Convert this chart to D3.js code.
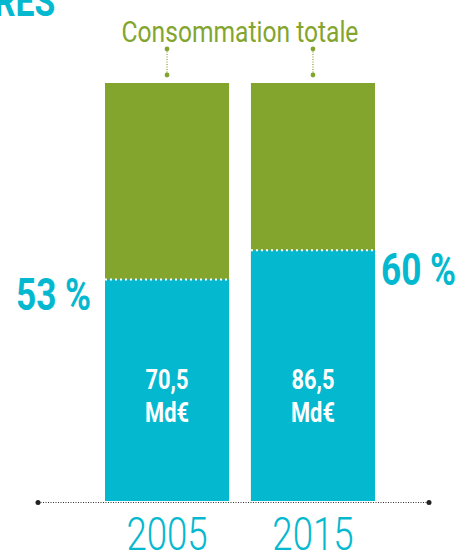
<!DOCTYPE html>
<html lang="fr">
<head>
  <meta charset="UTF-8">
  <title>Consommation</title>
  <script src="https://cdn.jsdelivr.net/npm/d3@7"></script>
  <style>
    body,html{margin:0;padding:0;background:#fff;}
  </style>
</head>
<body>
  <svg width="460" height="556"></svg>
  <script>
    // données
    let years = ["2005", "2015"];
    let shares = [53, 60];            // part (%) en bleu
    let amounts = ["70,5", "86,5"];   // Md€
    let totalLabel = "Consommation totale";

    let green = "#83a52d", cyan = "#04b9cf";
    let font = "Roboto, 'DejaVu Sans', sans-serif";

    let svg = d3.select("svg");
    let x = d3.scaleBand().domain(years).range([105, 375]).paddingInner(0.15).paddingOuter(0);
    let y = d3.scaleLinear().domain([0, 100]).range([501, 83]);

    // texte condensé
    function ctext(g, tx, ty, str, size, weight, color, anchor, sx) {
      return g.append("text")
        .attr("transform", `translate(${tx},${ty}) scale(${sx},1)`)
        .attr("text-anchor", anchor)
        .attr("font-family", font)
        .attr("font-size", size)
        .attr("font-weight", weight)
        .attr("fill", color)
        .text(str);
    }

    // titre coupé
    ctext(svg, -6, 16, "RES", 42, 700, cyan, "start", 0.8);

    let data = years.map((yr, i) => ({year: yr, share: shares[i], amount: amounts[i]}));

    let bars = svg.selectAll("g.bar").data(data).enter().append("g").attr("class", "bar");
    bars.append("rect")
      .attr("x", d => x(d.year)).attr("width", x.bandwidth())
      .attr("y", y(100)).attr("height", y(0) - y(100))
      .attr("fill", green);
    bars.append("rect")
      .attr("x", d => x(d.year)).attr("width", x.bandwidth())
      .attr("y", d => y(d.share)).attr("height", d => y(0) - y(d.share))
      .attr("fill", cyan);
    bars.append("line")
      .attr("x1", d => x(d.year)).attr("x2", d => x(d.year) + x.bandwidth())
      .attr("y1", d => y(d.share)).attr("y2", d => y(d.share))
      .attr("stroke", "#fff").attr("stroke-width", 2).attr("stroke-dasharray", "2,3");

    bars.each(function (d) {
      let g = d3.select(this), cx = x(d.year) + x.bandwidth() / 2;
      ctext(g, cx, 389, d.amount, 28, 700, "#fff", "middle", 0.78);
      ctext(g, cx, 422, "Md€", 28, 700, "#fff", "middle", 0.78);
      ctext(g, cx, 550, d.year, 47, 300, cyan, "middle", 0.78);
      // repère pointillé vers le libellé
      g.append("line").attr("x1", cx).attr("x2", cx).attr("y1", 49).attr("y2", 75)
        .attr("stroke", green).attr("stroke-width", 1.2).attr("stroke-dasharray", "1,1.5");
      g.selectAll("circle.dot").data([49, 75]).enter().append("circle")
        .attr("cx", cx).attr("cy", v => v).attr("r", 2.4).attr("fill", green);
    });

    // pourcentages
    ctext(svg, 16, 310, shares[0] + " %", 44, 700, cyan, "start", 0.8);
    ctext(svg, 381, 285, shares[1] + " %", 44, 700, cyan, "start", 0.8);

    ctext(svg, 240, 42, totalLabel, 30, 400, green, "middle", 0.82);

    // ligne de base
    svg.append("line").attr("x1", 38).attr("x2", 429).attr("y1", 502.5).attr("y2", 502.5)
      .attr("stroke", "#333").attr("stroke-width", 1).attr("stroke-dasharray", "1,1.5");
    svg.selectAll("circle.end").data([38, 429]).enter().append("circle")
      .attr("cx", v => v).attr("cy", 502.5).attr("r", 2.5).attr("fill", "#222");
  </script>
</body>
</html>
